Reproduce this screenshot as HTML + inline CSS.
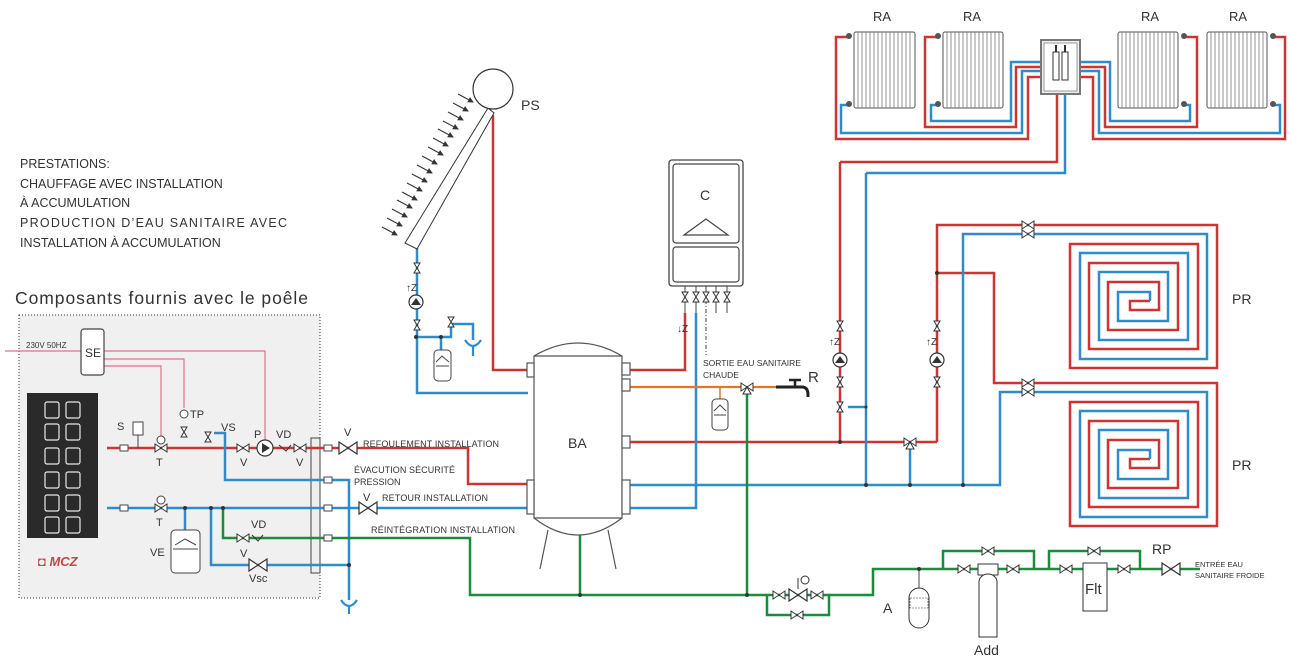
<!DOCTYPE html>
<html><head><meta charset="utf-8"><style>
html,body{margin:0;padding:0;background:#fff;}
svg{display:block;}
text{font-family:"Liberation Sans",sans-serif;fill:#333;}
</style></head><body>
<svg width="1290" height="657" viewBox="0 0 1290 657" xmlns="http://www.w3.org/2000/svg">
<defs>
<g id="vh"><path d="M-6,-4 L6,4 L6,-4 L-6,4 Z" fill="#fff" stroke="#333" stroke-width="1"/></g>
<g id="vs"><path d="M-3,-5 L3,5 L-3,5 L3,-5 Z" fill="#fff" stroke="#333" stroke-width="1"/></g>
<g id="vbig"><path d="M-9,-6 L9,6 L9,-6 L-9,6 Z" fill="#fff" stroke="#333" stroke-width="1.2"/></g>
<g id="pump"><circle r="7" fill="#fff" stroke="#333" stroke-width="1.2"/><path d="M-5,3 L0,-4 L5,3 Z" fill="#333"/></g>
<g id="v3"><path d="M-6,-4 L6,4 L6,-4 L-6,4 Z" fill="#fff" stroke="#333"/><path d="M0,0 L-4,7 L4,7 Z" fill="#fff" stroke="#333"/></g>
<marker id="ar" markerWidth="6" markerHeight="6" refX="5" refY="3" orient="auto"><path d="M0,0 L6,3 L0,6 Z" fill="#333"/></marker>
</defs>

<text x="20" y="168" font-size="12.5">PRESTATIONS:</text>
<text x="20" y="188" font-size="12.5">CHAUFFAGE AVEC INSTALLATION</text>
<text x="20" y="207" font-size="12.5">À ACCUMULATION</text>
<text x="20" y="227" font-size="12.5" textLength="267">PRODUCTION D’EAU SANITAIRE AVEC</text>
<text x="20" y="247" font-size="12.5">INSTALLATION À ACCUMULATION</text>
<text x="15" y="304" font-size="17.5" textLength="293">Composants fournis avec le poêle</text>

<rect x="19" y="315" width="301" height="283" fill="#f0f0f0" stroke="#333" stroke-width="1" stroke-dasharray="1,2"/>

<g fill="none" stroke="#e0708a" stroke-width="1.2">
<path d="M5,351 H81"/>
<path d="M104,351 H265 V440"/>
<path d="M104,359 H184 V408"/>
<path d="M104,366 H161 V440"/>
</g>
<text x="26" y="348" font-size="8">230V 50HZ</text>
<rect x="81" y="329" width="23" height="46" rx="3" fill="#fff" stroke="#444" stroke-width="1.2"/>
<text x="85" y="357" font-size="12">SE</text>

<rect x="27" y="393" width="71" height="145" fill="#2a2a2a"/>
<g fill="none" stroke="#e8e8e8" stroke-width="1.2">
<rect x="45" y="402" width="14" height="16" rx="2"/><rect x="66" y="402" width="14" height="16" rx="2"/>
<rect x="45" y="424" width="14" height="16" rx="2"/><rect x="66" y="424" width="14" height="16" rx="2"/>
<rect x="45" y="448" width="14" height="16" rx="2"/><rect x="66" y="448" width="14" height="16" rx="2"/>
<rect x="45" y="472" width="14" height="16" rx="2"/><rect x="66" y="472" width="14" height="16" rx="2"/>
<rect x="45" y="495" width="14" height="16" rx="2"/><rect x="66" y="495" width="14" height="16" rx="2"/>
<rect x="45" y="517" width="14" height="16" rx="2"/><rect x="66" y="517" width="14" height="16" rx="2"/>
</g>
<rect x="38" y="553" width="52" height="18" fill="#f0f0f0"/>
<text x="38" y="566" font-size="13" font-weight="bold" font-style="italic" style="fill:#c04848">◘ MCZ</text>

<rect x="311" y="438" width="9" height="135" fill="#eee" stroke="#444"/>

<g fill="none" stroke="#d03333" stroke-width="2.5">
<path d="M107,448 H468 V484 H528"/>
<path d="M493,115 V370 H528"/>
<path d="M685,313 V370 H630"/>
<path d="M630,442 H937"/>
<path d="M840,162 V442"/>
<path d="M1057,86 V162 H840"/>
<path d="M937,442 V225 H1217 V368 H1070 V244 H1198 V349 H1089 V263 H1178 V330 H1108 V282 H1159 V310 H1130 V301 H1150"/>
<path d="M937,273 H994 V383 H1217 V526 H1070 V402 H1198 V507 H1089 V421 H1178 V488 H1108 V440 H1159 V468 H1130 V459 H1150"/>
<path d="M848,37 H836 V139 H1028 V77 H1055"/>
<path d="M937,37 H925 V127 H1016 V67 H1055"/>
<path d="M1184,37 H1197 V127 H1105 V67 H1068"/>
<path d="M1273,37 H1285 V139 H1093 V77 H1068"/>
</g>

<g fill="none" stroke="#2f8ccb" stroke-width="2.5">
<path d="M107,508 H528"/>
<path d="M214,433 H225 V480 H328 H349 V600"/>
<path d="M211,508 V565 H349"/>
<path d="M185,508 V530"/>
<path d="M417,248 V393 H528"/>
<path d="M416,337 H451 V324"/>
<path d="M451,324 H473 V340"/>
<path d="M441,337 V350"/>
<path d="M696,313 V508 H630"/>
<path d="M630,485 H1000 V392 H1207 V517 H1080 V411 H1188 V498 H1099 V430 H1168 V479 H1118 V450 H1150 V459"/>
<path d="M866,173 V485"/>
<path d="M1065,86 V173 H866"/>
<path d="M963,485 V234 H1207 V359 H1080 V253 H1188 V340 H1099 V272 H1168 V321 H1118 V292 H1150 V301"/>
<path d="M910,442 V485"/>
<path d="M848,407 H866"/>
<path d="M848,105 H841 V133 H1022 V71 H1055"/>
<path d="M937,105 H931 V121 H1011 V62 H1055"/>
<path d="M1184,105 H1190 V121 H1110 V62 H1068"/>
<path d="M1273,105 H1280 V133 H1099 V71 H1068"/>
</g>
<path d="M341,600 q8,12 16,0 M349,606 V614" fill="none" stroke="#2f8ccb" stroke-width="2.2"/>
<path d="M465,340 q8,12 16,0 M473,346 V356" fill="none" stroke="#2f8ccb" stroke-width="2.2"/>

<g fill="none" stroke="#1a8c3c" stroke-width="2.5">
<path d="M223,508 V538 H470 V595 H873 V569 H1200"/>
<path d="M580,530 V595"/>
<path d="M747,392 V595"/>
<path d="M767,595 V615 H829 V595"/>
<path d="M943,569 V551 H1034 V569"/>
<path d="M1049,569 V551 H1140 V569"/>
</g>
<path d="M919,569 V588" stroke="#444" stroke-width="1"/>

<path d="M630,387 H776" fill="none" stroke="#e0782a" stroke-width="2.2"/>
<path d="M720,387 V399" stroke="#e0782a" stroke-width="1.5"/>
<path d="M776,387 H802 q6,0 6,8 V397" fill="none" stroke="#222" stroke-width="3"/>
<path d="M795,387 V381 M789,380 H801" stroke="#222" stroke-width="2.5"/>

<g stroke="#555" stroke-width="1.2" fill="#fff">
<path d="M540,569 L548,530 M616,569 L608,530" fill="none"/>
<path d="M534,356 Q578,330 622,356 L622,518 Q578,552 534,518 Z"/>
<path d="M534,356 H622 M534,518 H622" fill="none"/>
<rect x="527" y="363" width="7" height="14"/><rect x="622" y="363" width="8" height="12"/>
<rect x="622" y="379" width="8" height="12"/><rect x="622" y="436" width="8" height="12"/>
<rect x="527" y="480" width="7" height="34"/><rect x="622" y="480" width="8" height="34"/>
</g>
<text x="568" y="448" font-size="14">BA</text>

<polygon points="405,243 417,249 494,113 488,108" fill="#fff" stroke="#333" stroke-width="1"/>
<circle cx="493" cy="89" r="20" fill="#fff" stroke="#333" stroke-width="1.2"/>
<text x="521" y="110" font-size="14">PS</text>
<g stroke="#333" stroke-width="1" marker-end="url(#ar)">
<line x1="382" y1="227" x2="397" y2="235"/><line x1="387" y1="218" x2="402" y2="226"/>
<line x1="392" y1="209" x2="407" y2="217"/><line x1="397" y1="200" x2="412" y2="208"/>
<line x1="402" y1="192" x2="417" y2="200"/><line x1="407" y1="183" x2="422" y2="191"/>
<line x1="412" y1="174" x2="427" y2="182"/><line x1="417" y1="165" x2="432" y2="173"/>
<line x1="422" y1="156" x2="437" y2="164"/><line x1="428" y1="147" x2="443" y2="155"/>
<line x1="433" y1="138" x2="448" y2="146"/><line x1="438" y1="129" x2="453" y2="137"/>
<line x1="443" y1="121" x2="458" y2="129"/><line x1="448" y1="112" x2="463" y2="120"/>
<line x1="453" y1="103" x2="468" y2="111"/><line x1="458" y1="94" x2="473" y2="102"/>
</g>
<use href="#vs" x="417" y="268"/><use href="#pump" x="416" y="302"/><use href="#vs" x="417" y="325"/>
<text x="406" y="291" font-size="10">↑Z</text>
<use href="#vs" x="451" y="322"/>
<rect x="434" y="350" width="17" height="31" rx="4" fill="#fff" stroke="#444"/>
<path d="M436,362 L442,356 L449,362 M436,366 H449" fill="none" stroke="#444"/>

<rect x="669" y="160" width="74" height="126" rx="3" fill="#fff" stroke="#444" stroke-width="1.3"/>
<rect x="673" y="164" width="66" height="79" rx="3" fill="#fff" stroke="#444" stroke-width="1.2"/>
<rect x="673" y="247" width="66" height="35" rx="3" fill="#fff" stroke="#444" stroke-width="1.2"/>
<text x="700" y="200" font-size="14">C</text>
<path d="M684,235 L706,219 L728,235 Z" fill="none" stroke="#444" stroke-width="1.2"/>
<g stroke="#444" stroke-width="1"><path d="M685,286 V313 M696,286 V313 M706,286 V300 M716,286 V313 M727,286 V313"/></g>
<path d="M706,300 V355" stroke="#444" stroke-dasharray="4,2,1,2"/>
<use href="#vs" x="685" y="297"/><use href="#vs" x="696" y="297"/><use href="#vs" x="706" y="297"/><use href="#vs" x="716" y="297"/><use href="#vs" x="727" y="297"/>
<text x="677" y="332" font-size="10">↓Z</text>
<text x="703" y="366" font-size="8.5">SORTIE EAU SANITAIRE</text>
<text x="703" y="378" font-size="8.5">CHAUDE</text>
<use href="#v3" x="747" y="387"/>
<text x="808" y="382" font-size="15">R</text>
<rect x="712" y="399" width="16" height="31" rx="4" fill="#fff" stroke="#444"/>
<path d="M714,411 L720,405 L726,411 M714,415 H726" fill="none" stroke="#444"/>

<rect x="120" y="445" width="8" height="6" fill="#fff" stroke="#444"/>
<rect x="120" y="505" width="8" height="6" fill="#fff" stroke="#444"/>
<rect x="324" y="445" width="8" height="6" fill="#fff" stroke="#444"/>
<rect x="324" y="477" width="8" height="6" fill="#fff" stroke="#444"/>
<rect x="324" y="505" width="8" height="6" fill="#fff" stroke="#444"/>
<rect x="324" y="535" width="8" height="6" fill="#fff" stroke="#444"/>
<rect x="133" y="422" width="10" height="13" fill="#fff" stroke="#444"/><path d="M138,435 V448" stroke="#444"/>
<text x="117" y="430" font-size="11">S</text>
<use href="#vh" x="161" y="448"/><circle cx="161" cy="440" r="4" fill="#fff" stroke="#444"/>
<text x="156" y="466" font-size="11">T</text>
<circle cx="184" cy="414" r="4" fill="#fff" stroke="#444"/><use href="#vs" x="184" y="432"/>
<text x="190" y="418" font-size="11">TP</text>
<use href="#vs" x="208" y="437"/>
<text x="221" y="431" font-size="11">VS</text>
<use href="#vh" x="243" y="448"/><text x="240" y="466" font-size="11">V</text>
<circle cx="265" cy="448" r="8" fill="#fff" stroke="#333" stroke-width="1.2"/><path d="M262,443 L270,448 L262,453 Z" fill="#333"/>
<text x="254" y="438" font-size="11">P</text>
<text x="276" y="438" font-size="11">VD</text>
<path d="M279,445 L286,451 L291,445" fill="none" stroke="#333"/>
<use href="#vh" x="300" y="448"/><text x="296" y="466" font-size="11">V</text>
<use href="#vbig" x="348" y="448"/><text x="344" y="436" font-size="11">V</text>
<use href="#vbig" x="368" y="508"/><text x="363" y="501" font-size="11">V</text>
<use href="#vh" x="161" y="508"/><circle cx="161" cy="500" r="4" fill="#fff" stroke="#444"/>
<text x="156" y="526" font-size="11">T</text>
<rect x="171" y="530" width="29" height="43" rx="4" fill="#fff" stroke="#444"/>
<path d="M175,545 L185,539 L196,545 M173,549 H198" fill="none" stroke="#444"/>
<text x="150" y="556" font-size="11">VE</text>
<use href="#vh" x="243" y="538"/><path d="M252,535 L258,541 L263,535" fill="none" stroke="#333"/>
<text x="251" y="528" font-size="11">VD</text><text x="240" y="557" font-size="11">V</text>
<use href="#vbig" x="258" y="565"/><text x="249" y="582" font-size="11">Vsc</text>
<text x="363" y="447" font-size="9" textLength="136">REFOULEMENT INSTALLATION</text>
<text x="354" y="473" font-size="9" textLength="101">ÉVACUTION SÉCURITÉ</text>
<text x="354" y="485" font-size="9">PRESSION</text>
<text x="382" y="501" font-size="9" textLength="106">RETOUR INSTALLATION</text>
<text x="371" y="533" font-size="9" textLength="144">RÉINTÉGRATION INSTALLATION</text>

<use href="#vs" x="840" y="326"/><text x="829" y="345" font-size="10">↑Z</text>
<use href="#pump" x="840" y="360"/><use href="#vs" x="840" y="382"/><use href="#vs" x="840" y="407"/>
<use href="#vs" x="937" y="326"/><text x="926" y="345" font-size="10">↑Z</text>
<use href="#pump" x="937" y="360"/><use href="#vs" x="937" y="382"/>
<use href="#v3" x="910" y="442"/>
<use href="#vh" x="1028" y="225"/><use href="#vh" x="1028" y="234"/>
<use href="#vh" x="1028" y="383"/><use href="#vh" x="1028" y="392"/>
<text x="1232" y="304" font-size="14">PR</text>
<text x="1232" y="470" font-size="14">PR</text>

<g fill="#fff" stroke="#555" stroke-width="1">
<rect x="854" y="32" width="61" height="76" rx="2"/>
<rect x="943" y="32" width="60" height="76" rx="2"/>
<rect x="1118" y="32" width="60" height="76" rx="2"/>
<rect x="1207" y="32" width="60" height="76" rx="2"/>
</g>
<g stroke="#777" stroke-width="0.8">
<path d="M858,32V108M862,32V108M866,32V108M870,32V108M874,32V108M878,32V108M882,32V108M886,32V108M890,32V108M894,32V108M898,32V108M902,32V108M906,32V108M910,32V108"/>
<path d="M947,32V108M951,32V108M955,32V108M959,32V108M963,32V108M967,32V108M971,32V108M975,32V108M979,32V108M983,32V108M987,32V108M991,32V108M995,32V108M999,32V108"/>
<path d="M1122,32V108M1126,32V108M1130,32V108M1134,32V108M1138,32V108M1142,32V108M1146,32V108M1150,32V108M1154,32V108M1158,32V108M1162,32V108M1166,32V108M1170,32V108M1174,32V108"/>
<path d="M1211,32V108M1215,32V108M1219,32V108M1223,32V108M1227,32V108M1231,32V108M1235,32V108M1239,32V108M1243,32V108M1247,32V108M1251,32V108M1255,32V108M1259,32V108M1263,32V108"/>
</g>
<g fill="#555"><circle cx="849" cy="36" r="3"/><circle cx="849" cy="104" r="3"/><circle cx="938" cy="36" r="3"/><circle cx="938" cy="104" r="3"/><circle cx="1184" cy="36" r="3"/><circle cx="1184" cy="104" r="3"/><circle cx="1273" cy="36" r="3"/><circle cx="1273" cy="104" r="3"/></g>
<text x="873" y="21" font-size="13">RA</text><text x="963" y="21" font-size="13">RA</text>
<text x="1141" y="21" font-size="13">RA</text><text x="1229" y="21" font-size="13">RA</text>
<rect x="1041" y="40" width="39" height="54" fill="#eee" stroke="#777" stroke-width="2"/>
<rect x="1044" y="43" width="33" height="48" fill="#fff" stroke="#999"/>
<g fill="#fff" stroke="#333"><rect x="1053" y="52" width="6" height="28"/><rect x="1062" y="52" width="6" height="28"/></g>
<path d="M1056,45V52M1065,45V52" stroke="#333" stroke-width="2"/>

<use href="#vh" x="779" y="595"/><use href="#vh" x="817" y="595"/>
<use href="#vbig" x="798" y="595"/><path d="M798,589 V578" stroke="#333"/><circle cx="805" cy="580" r="4" fill="#fff" stroke="#333"/>
<use href="#vh" x="797" y="615"/>
<path d="M909,598 a10,10 0 0 1 20,0 V618 a10,10 0 0 1 -20,0 Z" fill="#fff" stroke="#333"/>
<path d="M910,598 H928 V608 H910 Z" fill="none" stroke="#333" stroke-width="0.6" stroke-dasharray="2,1"/>
<text x="883" y="613" font-size="14">A</text>
<use href="#vh" x="988" y="551"/><use href="#vh" x="964" y="569"/><use href="#vh" x="1013" y="569"/>
<rect x="978" y="564" width="20" height="11" fill="#fff" stroke="#333"/>
<path d="M979,582 a9,8 0 0 1 18,0 V637 H979 Z" fill="#fff" stroke="#333"/>
<text x="974" y="655" font-size="14">Add</text>
<use href="#vh" x="1094" y="551"/><use href="#vh" x="1066" y="569"/><use href="#vh" x="1124" y="569"/>
<rect x="1083" y="563" width="24" height="48" fill="#fff" stroke="#333"/>
<text x="1085" y="594" font-size="15">Flt</text>
<use href="#vbig" x="1171" y="569"/>
<text x="1152" y="554" font-size="14">RP</text>
<text x="1195" y="567" font-size="7.5">ENTRÉE EAU</text>
<text x="1195" y="578" font-size="7.5">SANITAIRE FROIDE</text>

<g fill="#333"><circle cx="840" cy="442" r="2"/><circle cx="866" cy="485" r="2"/><circle cx="910" cy="485" r="2"/><circle cx="963" cy="485" r="2"/><circle cx="937" cy="273" r="2"/><circle cx="866" cy="407" r="1.5"/><circle cx="211" cy="508" r="2"/><circle cx="185" cy="508" r="2"/><circle cx="223" cy="508" r="2"/><circle cx="349" cy="565" r="2"/><circle cx="416" cy="337" r="2"/><circle cx="441" cy="337" r="2"/><circle cx="580" cy="595" r="2"/><circle cx="747" cy="595" r="2"/><circle cx="919" cy="569" r="2"/></g>
</svg>
</body></html>
